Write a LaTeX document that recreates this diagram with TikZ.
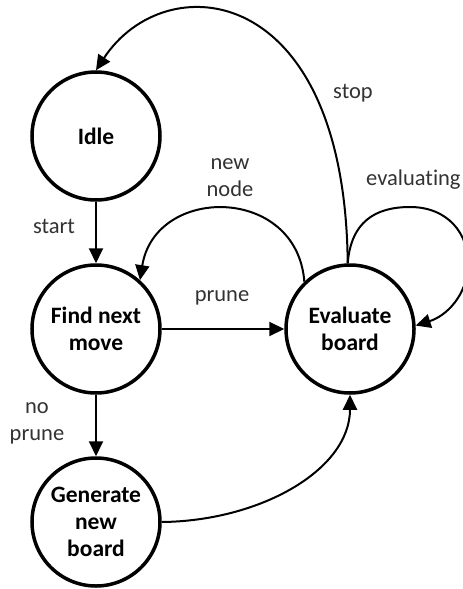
\documentclass[tikz,border=0pt]{standalone}
\usepackage{fontspec}
\setmainfont[Ligatures={NoCommon}]{Carlito}
\usetikzlibrary{arrows.meta}
\definecolor{lblgray}{RGB}{50,50,50}
\tikzset{
  state/.style={circle, draw=black, line width=3.5bp, minimum size=128bp, inner sep=0pt, outer sep=1.75bp, align=center, font=\fontsize{23.5bp}{27bp}\selectfont\bfseries},
  edge/.style={line width=2bp, -{Triangle[length=15bp,width=14bp]}},
  lbl/.style={text=lblgray, align=center, inner sep=0pt, font=\fontsize{22.5bp}{27bp}\selectfont}
}
\begin{document}
\begin{tikzpicture}[x=1bp,y=-1bp]
\useasboundingbox (0,0) rectangle (463,589);
\clip (0,0) rectangle (463,589);
\node[state] (idle) at (96,136) {Idle};
\node[state] (find) at (96,329) {Find next\\move};
\node[state] (eval) at (350,329) {Evaluate\\board};
\node[state] (gen) at (96,522) {Generate\\new\\board};
\node[lbl] (lstop) at (353,93) {stop};
\node[lbl] (lnew) at (230,178) {new\\node};
\node[lbl, anchor=west] (leval) at (366,180) {evaluating};
\node[lbl] (lstart) at (54,226) {start};
\node[lbl] (lprune) at (222,298) {prune};
\node[lbl] (lnop) at (37,423) {no\\prune};
\coordinate (lpk) at (410,207);
\coordinate (lrt) at (468,265);
\draw[edge] (idle) -- (find);
\draw[edge] (find) -- (eval);
\draw[edge] (find) -- (gen);
\draw[edge] (gen.0) .. controls (260,521) and (350,470) .. (eval.270);
\draw[edge] (eval.92) .. controls (345,-20) and (165,-35) .. (idle.90);
\draw[edge] (eval.134) .. controls (297,185) and (155,185) .. (find.48);
\draw[edge] (eval.92) .. controls (351,222) and (375,207) .. (lpk)
  .. controls (448,207) and (469,234) .. (lrt)
  .. controls (467,296) and (446,316) .. (eval.3);
\end{tikzpicture}
\end{document}
